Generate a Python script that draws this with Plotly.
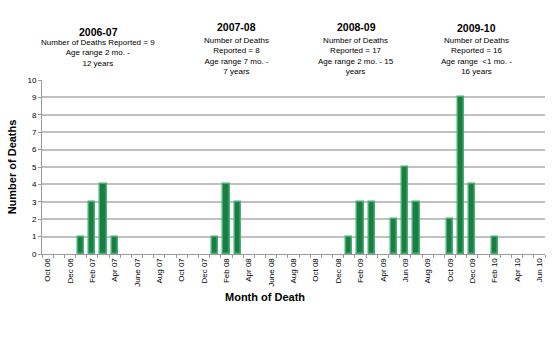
import plotly.graph_objects as go

months = ["Oct 06","Nov 06","Dec 06","Jan 07","Feb 07","Mar 07","Apr 07","May 07","June 07","Jul 07","Aug 07","Sep 07",
          "Oct 07","Nov 07","Dec 07","Jan 08","Feb 08","Mar 08","Apr 08","May 08","June 08","Jul 08","Aug 08","Sep 08",
          "Oct 08","Nov 08","Dec 08","Jan 09","Feb 09","Mar 09","Apr 09","May 09","Jun 09","Jul 09","Aug 09","Sep 09",
          "Oct 09","Nov 09","Dec 09","Jan 10","Feb 10","Mar 10","Apr 10","May 10","Jun 10"]
deaths = [0,0,0,1,3,4,1,0,0,0,0,0,
          0,0,0,1,4,3,0,0,0,0,0,0,
          0,0,0,1,3,3,0,2,5,3,0,0,
          2,9,4,0,1,0,0,0,0]

season_titles = ["2006-07", "2007-08", "2008-09", "2009-10"]
season_texts = [
    "Number of Deaths Reported = 9<br>Age range 2 mo. -<br>12 years",
    "Number of Deaths<br>Reported = 8<br>Age range 7 mo. -<br>7 years",
    "Number of Deaths<br>Reported = 17<br>Age range 2 mo. - 15<br>years",
    "Number of Deaths<br>Reported = 16<br>Age range  &lt;1 mo. -<br>16 years",
]

FONT = "Liberation Sans, Arial, sans-serif"
W, H = 556, 342
L, R, T, B = 42, 11, 80, 88
pw, ph = W - L - R, H - T - B

idx = list(range(len(months)))
yvals = [d if d > 0 else None for d in deaths]
tick_idx = idx[::2]
tick_txt = months[::2]

fig = go.Figure()
fig.add_trace(go.Bar(
    x=idx, y=yvals, width=0.55,
    marker=dict(color="#1a7d42", line=dict(color="#45b071", width=1.5)),
    showlegend=False,
))

def px2x(px):
    return (px - L) / pw

def px2y(py):
    return (H - B - py) / ph

# season annotation layout (pixel centers)
title_pos = [(98, 32), (236, 27), (356, 27), (476, 28)]
body_pos = [(98, 53), (236, 55.5), (356, 55.5), (476, 56)]

for t, b, tp, bp in zip(season_titles, season_texts, title_pos, body_pos):
    fig.add_annotation(text="<b>" + t + "</b>", xref="paper", yref="paper",
                       x=px2x(tp[0]), y=px2y(tp[1]), xanchor="center", yanchor="middle",
                       showarrow=False, font=dict(family=FONT, size=10.5, color="black"))
    fig.add_annotation(text=b, xref="paper", yref="paper",
                       x=px2x(bp[0]), y=px2y(bp[1]), xanchor="center", yanchor="middle",
                       showarrow=False, font=dict(family=FONT, size=8, color="black"))

fig.add_annotation(text="<b>Month of Death</b>", xref="paper", yref="paper",
                   x=px2x(265), y=px2y(297), xanchor="center", yanchor="middle",
                   showarrow=False, font=dict(family=FONT, size=11, color="black"))

fig.update_layout(
    width=W, height=H,
    margin=dict(l=L, r=R, t=T, b=B, pad=0),
    paper_bgcolor="white", plot_bgcolor="white",
    font=dict(family=FONT, color="black"),
    bargap=0,
)
fig.update_xaxes(
    range=[-0.5, len(months) - 0.5],
    tickmode="array", tickvals=tick_idx, ticktext=tick_txt,
    tickangle=-90, tickfont=dict(family=FONT, size=8, color="black"),
    ticks="", showgrid=False, zeroline=False,
    showline=True, linecolor="#9a9a9a", linewidth=1,
    minor=dict(tickmode="linear", tick0=-0.5, dtick=1, ticks="outside",
               ticklen=3, tickcolor="#9a9a9a", showgrid=False),
    fixedrange=True,
)
fig.update_yaxes(
    range=[0, 10], dtick=1, tick0=0,
    tickfont=dict(family=FONT, size=8, color="black"),
    ticks="outside", ticklen=3, tickcolor="#9a9a9a",
    showgrid=True, gridcolor="#c0c0c0", gridwidth=1.5,
    zeroline=False, showline=True, linecolor="#9a9a9a", linewidth=1,
    title=dict(text="<b>Number of Deaths</b>", font=dict(family=FONT, size=11, color="black"), standoff=8),
    fixedrange=True,
)

fig.write_html("out.html")
